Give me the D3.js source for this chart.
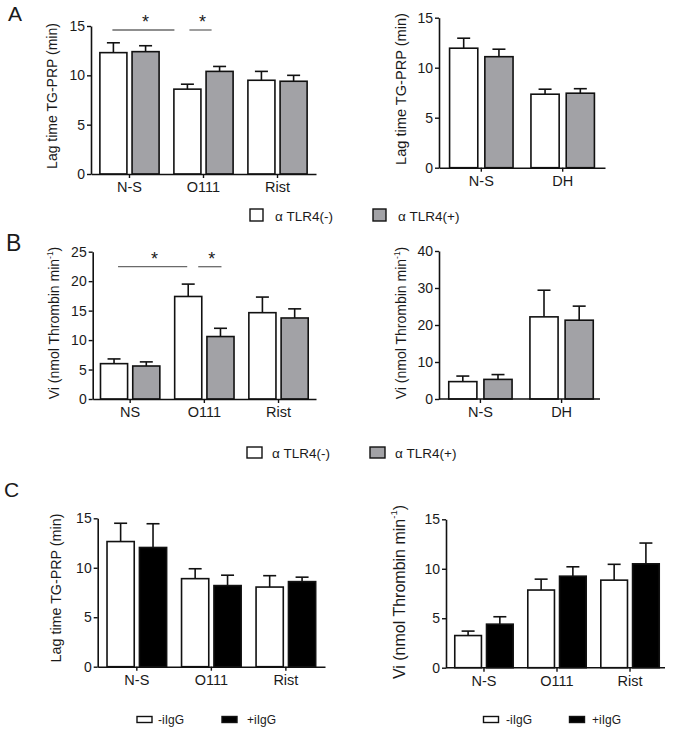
<!DOCTYPE html>
<html><head><meta charset="utf-8">
<script src="https://cdn.jsdelivr.net/npm/d3@7"></script>
<style>
body{margin:0;background:#fff}
svg{display:block}
text{font-family:"Liberation Sans",Arial,Helvetica,sans-serif;fill:#1a1a1a}
</style>
</head><body>
<svg id="c" width="675" height="729"></svg>
<script>
// ---------------- DATA ----------------
const tlrSeries = ["\u03b1 TLR4(-)", "\u03b1 TLR4(+)"];
const iggSeries = ["-iIgG", "+iIgG"];

// Panel A left: lag time
const catsA1 = ["N-S", "O111", "Rist"];
const a1NegMean = [12.3, 8.6, 9.5];
const a1NegSem  = [1.0, 0.5, 0.9];
const a1PosMean = [12.4, 10.4, 9.4];
const a1PosSem  = [0.6, 0.5, 0.6];

// Panel A right: lag time
const catsA2 = ["N-S", "DH"];
const a2NegMean = [11.95, 7.35];
const a2NegSem  = [1.0, 0.5];
const a2PosMean = [11.1, 7.45];
const a2PosSem  = [0.75, 0.45];

// Panel B left: Vi
const catsB1 = ["NS", "O111", "Rist"];
const b1NegMean = [6.0, 17.4, 14.65];
const b1NegSem  = [0.8, 2.1, 2.65];
const b1PosMean = [5.6, 10.6, 13.75];
const b1PosSem  = [0.7, 1.4, 1.55];

// Panel B right: Vi
const catsB2 = ["N-S", "DH"];
const b2NegMean = [4.7, 22.2];
const b2NegSem  = [1.5, 7.2];
const b2PosMean = [5.3, 21.3];
const b2PosSem  = [1.3, 3.8];

// Panel C left: lag time
const catsC1 = ["N-S", "O111", "Rist"];
const c1NegMean = [12.65, 8.9, 8.05];
const c1NegSem  = [1.85, 1.0, 1.15];
const c1PosMean = [12.05, 8.2, 8.6];
const c1PosSem  = [2.4, 1.05, 0.45];

// Panel C right: Vi
const catsC2 = ["N-S", "O111", "Rist"];
const c2NegMean = [3.25, 7.85, 8.85];
const c2NegSem  = [0.45, 1.1, 1.6];
const c2PosMean = [4.4, 9.25, 10.5];
const c2PosSem  = [0.75, 0.95, 2.1];

// Tick values
const ticksLag = [0, 5, 10, 15];
const ticksB1 = [0, 5, 10, 15, 20, 25];
const ticksB2 = [0, 10, 20, 30, 40];
const ticksC2 = [0, 5, 10, 15];

// Significance comparisons [category, seriesIndex] -> [category, seriesIndex]
const sigA1 = [{a: ["N-S", 0], b: ["O111", 0], label: "*"}, {a: ["O111", 0], b: ["O111", 1], label: "*"}];
const sigB1 = [{a: ["NS", 0], b: ["O111", 0], label: "*"}, {a: ["O111", 0], b: ["O111", 1], label: "*"}];

const labLag = "Lag time TG-PRP (min)";

// ---------------- DRAW ----------------
const svg = d3.select("#c");

function drawPanel(cfg) {
  const g = svg.append("g");
  const y = d3.scaleLinear().domain([0, cfg.ymax]).range([cfg.y0, cfg.yTop]);
  const x0 = d3.scaleBand().domain(cfg.cats).range([cfg.left, cfg.right])
    .paddingInner(cfg.pi).paddingOuter(cfg.po);
  const x1 = d3.scaleBand().domain([0, 1]).range([0, x0.bandwidth()]).paddingInner(cfg.sub);
  const rows = [];
  cfg.cats.forEach((c, i) => {
    rows.push({c, s: 0, m: cfg.neg[i], e: cfg.negSem[i]});
    rows.push({c, s: 1, m: cfg.pos[i], e: cfg.posSem[i]});
  });
  const bx = d => x0(d.c) + x1(d.s);
  const bw = x1.bandwidth();
  // error bars
  const eg = g.append("g").attr("stroke", "#111").attr("stroke-width", 1.6).attr("fill", "none");
  eg.selectAll("line.stem").data(rows).join("line").attr("class", "stem")
    .attr("x1", d => bx(d) + bw / 2).attr("x2", d => bx(d) + bw / 2)
    .attr("y1", d => y(d.m)).attr("y2", d => y(d.m + d.e));
  eg.selectAll("line.cap").data(rows).join("line").attr("class", "cap")
    .attr("x1", d => bx(d) + bw / 2 - 6.5).attr("x2", d => bx(d) + bw / 2 + 6.5)
    .attr("y1", d => y(d.m + d.e)).attr("y2", d => y(d.m + d.e));
  // bars
  g.append("g").selectAll("rect").data(rows).join("rect")
    .attr("x", d => bx(d)).attr("width", bw)
    .attr("y", d => y(d.m)).attr("height", d => y(0) - y(d.m))
    .attr("fill", d => d.s === 0 ? "#ffffff" : cfg.posFill)
    .attr("stroke", "#111").attr("stroke-width", 1.6);
  // y axis
  const ya = g.append("g").attr("transform", `translate(${cfg.left},0)`)
    .call(d3.axisLeft(y).tickValues(cfg.ticks).tickSize(4).tickPadding(2).tickSizeOuter(0));
  // x axis
  const xa = g.append("g").attr("transform", `translate(0,${cfg.y0})`)
    .call(d3.axisBottom(x0).tickSize(4).tickPadding(4).tickSizeOuter(0));
  [ya, xa].forEach(a => {
    a.select(".domain").attr("stroke", "#111").attr("stroke-width", 1.6);
    a.selectAll(".tick line").attr("stroke", "#111").attr("stroke-width", 1.4);
    a.selectAll(".tick text").attr("fill", "#1a1a1a")
      .attr("font-family", '"Liberation Sans",Arial,sans-serif');
  });
  ya.selectAll(".tick text").attr("font-size", 14);
  xa.selectAll(".tick text").attr("font-size", 14.5);
  if (cfg.axisEnd) {
    xa.select(".domain").attr("d", `M${cfg.left},0H${cfg.axisEnd}`);
  }
  // y label
  const fs = cfg.labFs;
  const t = g.append("text").attr("transform", `translate(${cfg.labX},${cfg.labY}) rotate(-90)`)
    .attr("text-anchor", "middle").attr("font-size", fs).attr("dy", "0.35em");
  if (cfg.vi) {
    t.append("tspan").text("Vi (nmol Thrombin min");
    t.append("tspan").text("-1").attr("font-size", fs * 0.6).attr("dy", "-0.75em");
    t.append("tspan").text(")").attr("font-size", fs).attr("dy", "0.45em");
  } else {
    t.text(cfg.label);
  }
  // significance
  if (cfg.sig) {
    cfg.sig.forEach((s, k) => {
      const xa1 = x0(s.a[0]) + x1(s.a[1]) + bw / 2 + cfg.sigInset[k][0];
      const xb1 = x0(s.b[0]) + x1(s.b[1]) + bw / 2 - cfg.sigInset[k][1];
      g.append("line").attr("x1", xa1).attr("x2", xb1).attr("y1", cfg.sigY).attr("y2", cfg.sigY)
        .attr("stroke", "#6a6a6a").attr("stroke-width", 1.3);
      g.append("text").attr("x", (xa1 + xb1) / 2 + 2).attr("y", cfg.sigY - 2)
        .attr("text-anchor", "middle").attr("font-size", 18).attr("fill", "#555").text(s.label);
    });
  }
}

function legend(items, fills, cfg) {
  items.forEach((name, i) => {
    svg.append("rect").attr("x", cfg.bx[i]).attr("y", cfg.by).attr("width", cfg.bw).attr("height", cfg.bh)
      .attr("fill", fills[i]).attr("stroke", "#111").attr("stroke-width", 1.4);
    svg.append("text").attr("x", cfg.tx[i]).attr("y", cfg.ty).attr("font-size", cfg.fs).text(name);
  });
}

const grey = "#a2a2a6";
drawPanel({cats: catsA1, neg: a1NegMean, negSem: a1NegSem, pos: a1PosMean, posSem: a1PosSem, posFill: grey,
  ymax: 15, ticks: ticksLag, y0: 174, yTop: 26, left: 91, right: 316, pi: 0.2, po: 0.12, sub: 0.16,
  label: labLag, labX: 52, labY: 96, labFs: 14, sig: sigA1, sigY: 30, sigInset: [[-1, 13], [2, 8]]});
drawPanel({cats: catsA2, neg: a2NegMean, negSem: a2NegSem, pos: a2PosMean, posSem: a2PosSem, posFill: grey,
  ymax: 15, ticks: ticksLag, y0: 167.7, yTop: 17.7, left: 439, right: 605, pi: 0.22, po: 0.13, sub: 0.2,
  label: labLag, labX: 401, labY: 89, labFs: 14.6});
drawPanel({cats: catsB1, neg: b1NegMean, negSem: b1NegSem, pos: b1PosMean, posSem: b1PosSem, posFill: grey,
  ymax: 25, ticks: ticksB1, y0: 399, yTop: 251.7, left: 92.7, right: 316, pi: 0.2, po: 0.105, sub: 0.16,
  vi: true, labX: 54, labY: 323, labFs: 14, sig: sigB1, sigY: 266.7, sigInset: [[4, 1], [10, -1]]});
drawPanel({cats: catsB2, neg: b2NegMean, negSem: b2NegSem, pos: b2PosMean, posSem: b2PosSem, posFill: grey,
  ymax: 40, ticks: ticksB2, y0: 399, yTop: 251, left: 439, right: 603, pi: 0.22, po: 0.12, sub: 0.2,
  vi: true, labX: 401, labY: 323, labFs: 14, axisEnd: 600});
drawPanel({cats: catsC1, neg: c1NegMean, negSem: c1NegSem, pos: c1PosMean, posSem: c1PosSem, posFill: "#000",
  ymax: 15, ticks: ticksLag, y0: 666.7, yTop: 518.3, left: 97.7, right: 325, pi: 0.2, po: 0.125, sub: 0.16,
  label: labLag, labX: 56, labY: 588, labFs: 14.3});
drawPanel({cats: catsC2, neg: c2NegMean, negSem: c2NegSem, pos: c2PosMean, posSem: c2PosSem, posFill: "#000",
  ymax: 15, ticks: ticksC2, y0: 667.7, yTop: 519.3, left: 446, right: 668, pi: 0.2, po: 0.12, sub: 0.16,
  vi: true, labX: 399, labY: 592, labFs: 16, axisEnd: 665});

legend(tlrSeries, ["#fff", grey], {bx: [250, 373], by: 209, bw: 13, bh: 12, tx: [275, 398], ty: 220.5, fs: 13.5});
legend(tlrSeries, ["#fff", grey], {bx: [247, 370], by: 447, bw: 15, bh: 11, tx: [272, 395], ty: 458, fs: 13.5});
legend(iggSeries, ["#fff", "#000"], {bx: [137, 222], by: 716.5, bw: 15, bh: 6, tx: [158, 247], ty: 723.5, fs: 12});
legend(iggSeries, ["#fff", "#000"], {bx: [483.5, 569.5], by: 716.5, bw: 15, bh: 6, tx: [506, 592], ty: 723.5, fs: 12});

// panel letters
svg.append("text").attr("x", 8).attr("y", 21).attr("font-size", 21).text("A");
svg.append("text").attr("x", 6).attr("y", 251).attr("font-size", 23).text("B");
svg.append("text").attr("x", 4).attr("y", 497).attr("font-size", 21).text("C");
</script>
</body></html>
